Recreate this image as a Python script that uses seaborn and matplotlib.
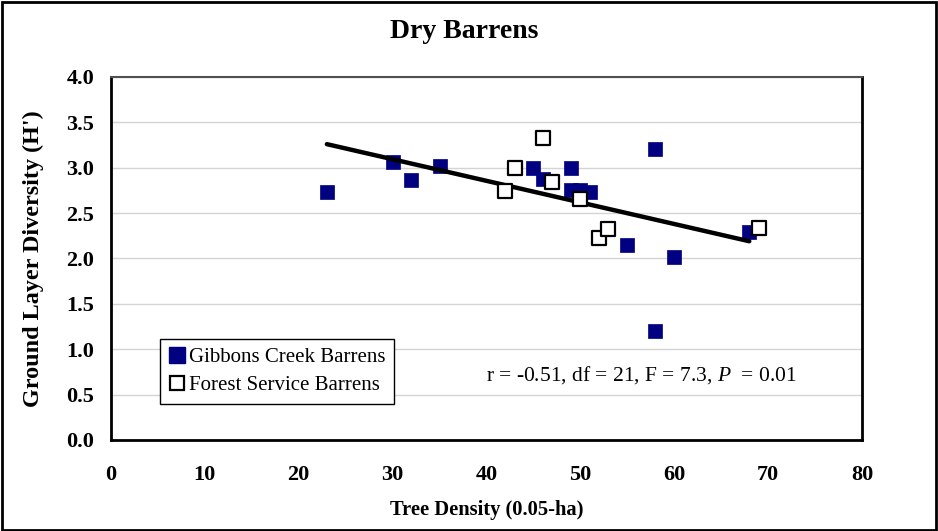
import numpy as np
import pandas as pd
import seaborn as sns
import matplotlib.pyplot as plt
from matplotlib.lines import Line2D
from matplotlib.patches import Rectangle

# tree density (0.05-ha) and ground layer diversity (H')
gibbons_x = [23, 30, 32, 35, 45, 46, 49, 49, 50, 51, 58, 55, 60, 58, 68]
gibbons_y = [2.73, 3.06, 2.86, 3.02, 3.00, 2.88, 3.00, 2.75, 2.75, 2.73, 3.21, 2.15, 2.02, 1.20, 2.29]
forest_x = [42, 43, 46, 47, 50, 52, 53, 69]
forest_y = [2.74, 3.00, 3.33, 2.84, 2.66, 2.23, 2.33, 2.34]
# trend line
trend_x = [23, 68]
trend_y = [3.26, 2.19]

stats_text = "r = -0.51, df = 21, F = 7.3, $\\mathit{P}$  = 0.01"

sns.set_theme(style="white")
plt.rcParams['font.family'] = ['Liberation Serif', 'DejaVu Serif']
plt.rcParams['mathtext.fontset'] = 'custom'
plt.rcParams['mathtext.rm'] = 'Liberation Serif'
plt.rcParams['mathtext.it'] = 'Liberation Serif:italic'
plt.rcParams['text.color'] = 'black'
plt.rcParams['axes.labelcolor'] = 'black'
plt.rcParams['xtick.color'] = 'black'
plt.rcParams['ytick.color'] = 'black'

df = pd.DataFrame({
    "density": gibbons_x + forest_x,
    "diversity": gibbons_y + forest_y,
    "site": ["Gibbons Creek Barrens"] * len(gibbons_x) + ["Forest Service Barrens"] * len(forest_x),
})
trend = pd.DataFrame({"x": trend_x, "y": trend_y})

fig = plt.figure(figsize=(9.38, 5.31), dpi=100)
ax = fig.add_axes([0.1183, 0.1714, 0.8006, 0.6836])

ax.yaxis.grid(True, color="#d4d4d4", linewidth=1)
ax.set_axisbelow(True)

sns.scatterplot(data=df[df.site == "Gibbons Creek Barrens"], x="density", y="diversity",
                marker="s", s=110, color="#000080", edgecolor="#000080", linewidth=0.5,
                ax=ax, legend=False, zorder=3)
sns.lineplot(data=trend, x="x", y="y", color="black", linewidth=3.2, ax=ax, zorder=4)
sns.scatterplot(data=df[df.site == "Forest Service Barrens"], x="density", y="diversity",
                marker="s", s=95, facecolor="white", edgecolor="black", linewidth=1.6,
                ax=ax, legend=False, zorder=5)

ax.set_xlim(0, 80)
ax.set_ylim(0, 4.0)
ax.set_xticks(range(0, 81, 10))
ax.set_yticks(np.arange(0, 4.01, 0.5))
ax.set_yticklabels([f"{v:.1f}" for v in np.arange(0, 4.01, 0.5)])
ax.tick_params(axis="both", direction="out", length=5, width=1, color="#303030",
               labelsize=16)
ax.tick_params(axis="y", pad=7)
ax.tick_params(axis="x", pad=13)
for lab in ax.get_xticklabels() + ax.get_yticklabels():
    lab.set_fontweight("bold")

for side in ["left", "bottom", "right"]:
    ax.spines[side].set_color("black")
    ax.spines[side].set_linewidth(2)
ax.spines["top"].set_color("#505050")
ax.spines["top"].set_linewidth(1.5)

ax.set_xlabel("Tree Density (0.05-ha)", fontsize=14.8, fontweight="bold", labelpad=11)
ax.set_ylabel("Ground Layer Diversity (H')", fontsize=17.4, fontweight="bold", labelpad=16)
fig.suptitle("Dry Barrens", x=0.495, y=0.94, va="center", fontsize=20, fontweight="bold")

ax.text(40, 0.72, stats_text, fontsize=15.5, va="center", ha="left")

handles = [
    Line2D([], [], marker="s", linestyle="", markersize=11, markerfacecolor="#000080",
           markeredgecolor="#000080", label="Gibbons Creek Barrens"),
    Line2D([], [], marker="s", linestyle="", markersize=10, markerfacecolor="white",
           markeredgecolor="black", markeredgewidth=1.6, label="Forest Service Barrens"),
]
leg = ax.legend(handles=handles, loc="upper left", bbox_to_anchor=(0.065, 0.277),
                borderaxespad=0, fancybox=False, framealpha=1, edgecolor="black",
                prop={"size": 15}, handletextpad=0.1, handlelength=0.9,
                borderpad=0.4, labelspacing=0.4)
leg.get_frame().set_linewidth(1)

fig.patches.append(Rectangle((0.002, 0.002), 0.996, 0.994, transform=fig.transFigure,
                             fill=False, edgecolor="black", linewidth=2))

fig.savefig("out.png", dpi=100)
